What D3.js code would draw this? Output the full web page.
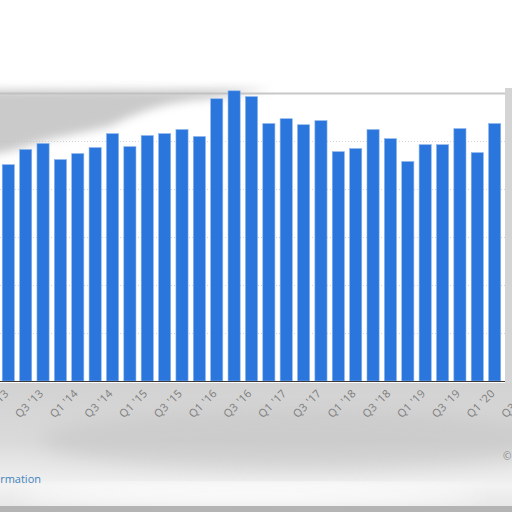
<!DOCTYPE html>
<html>
<head>
<meta charset="utf-8">
<script src="https://cdn.jsdelivr.net/npm/d3@7"></script>
<style>
  html, body { margin: 0; padding: 0; background: #fff; overflow: hidden; }
  svg { display: block; font-family: "Open Sans", "Noto Sans", sans-serif; }
</style>
</head>
<body>
<svg id="chart" width="512" height="512"></svg>
<script>
// quarters on the axis (last two are cut off by the frame)
const quarters = [
  "Q1 '13", "Q2 '13", "Q3 '13", "Q4 '13",
  "Q1 '14", "Q2 '14", "Q3 '14", "Q4 '14",
  "Q1 '15", "Q2 '15", "Q3 '15", "Q4 '15",
  "Q1 '16", "Q2 '16", "Q3 '16", "Q4 '16",
  "Q1 '17", "Q2 '17", "Q3 '17", "Q4 '17",
  "Q1 '18", "Q2 '18", "Q3 '18", "Q4 '18",
  "Q1 '19", "Q2 '19", "Q3 '19", "Q4 '19",
  "Q1 '20", "Q2 '20", "Q3 '20"
];
// values (one per visible quarter)
const values = [
  90.0, 96.3, 98.8, 92.1,
  94.6, 97.1, 102.9, 97.5,
  102.1, 102.9, 104.6, 101.7,
  117.4, 120.7, 118.3, 107.1,
  109.1, 106.6, 108.3, 95.4,
  96.7, 104.6, 100.8, 91.3,
  98.3, 98.3, 105.0, 95.0,
  107.1
];
const yTicks = [0, 20, 40, 60, 80, 100, 120];

const svg = d3.select("#chart");
const W = 512, H = 512;
const step = 17.37;
const plotLeft = 8.3 - step / 2;
const plotRight = 505;
const base = 381, plotTop = 92.5;

const defs = svg.append("defs");
const blur = defs.append("filter").attr("id", "blur")
  .attr("x", "-20%").attr("y", "-50%").attr("width", "140%").attr("height", "200%");
blur.append("feGaussianBlur").attr("stdDeviation", 5);
const soft = defs.append("filter").attr("id", "soft")
  .attr("x", "-20%").attr("y", "-20%").attr("width", "140%").attr("height", "140%");
soft.append("feGaussianBlur").attr("stdDeviation", 10);

const grayGrad = defs.append("linearGradient").attr("id", "bottomGrad")
  .attr("x1", 0).attr("y1", 0).attr("x2", 0).attr("y2", 1);
grayGrad.append("stop").attr("offset", "0%").attr("stop-color", "#d2d2d2");
grayGrad.append("stop").attr("offset", "45%").attr("stop-color", "#dadada");
grayGrad.append("stop").attr("offset", "80%").attr("stop-color", "#f2f2f2");
grayGrad.append("stop").attr("offset", "100%").attr("stop-color", "#e4e4e4");

const x = d3.scaleBand()
  .domain(quarters)
  .range([plotLeft, plotLeft + step * quarters.length])
  .paddingInner(0.3)
  .paddingOuter(0.15);

const y = d3.scaleLinear()
  .domain([0, 120])
  .range([base, plotTop]);

// background pieces
svg.append("rect").attr("width", W).attr("height", H).attr("fill", "#fff");
svg.append("rect")
  .attr("x", 0).attr("y", base + 2)
  .attr("width", W).attr("height", H - base - 2)
  .attr("fill", "url(#bottomGrad)");
svg.append("ellipse")
  .attr("cx", 300).attr("cy", 440).attr("rx", 260).attr("ry", 30)
  .attr("fill", "#c0c0c0").attr("opacity", 0.5).attr("filter", "url(#soft)");
svg.append("ellipse")
  .attr("cx", 250).attr("cy", 495).attr("rx", 230).attr("ry", 10)
  .attr("fill", "#fff").attr("opacity", 0.9).attr("filter", "url(#soft)");
svg.append("rect")
  .attr("x", 0).attr("y", 506).attr("width", W).attr("height", 6)
  .attr("fill", "#b4b4b4");

// gridlines
svg.append("g")
  .selectAll("line")
  .data(yTicks.slice(1))
  .join("line")
  .attr("x1", 0).attr("x2", plotRight)
  .attr("y1", d => Math.round(y(d)) + 0.5)
  .attr("y2", d => Math.round(y(d)) + 0.5)
  .attr("stroke", d => d === 120 ? "#c8c8c8" : "#d6d6d6")
  .attr("stroke-width", d => d === 120 ? 2 : 1)
  .attr("stroke-dasharray", d => d === 120 ? null : "1,2");

// smudge over the upper left of the plot
svg.append("path")
  .attr("d", "M-20,90 L270,89 C235,94 215,99 195,100 C160,104 140,112 110,126 C80,134 60,136 40,142 C25,146 15,152 -20,156 Z")
  .attr("fill", "#bdbdbd")
  .attr("opacity", 0.8)
  .attr("filter", "url(#blur)");

// bars
svg.append("g")
  .selectAll("rect")
  .data(values)
  .join("rect")
  .attr("x", (d, i) => x(quarters[i]))
  .attr("y", d => y(d))
  .attr("width", x.bandwidth())
  .attr("height", d => base - y(d))
  .attr("fill", "#2a76dc")
  .attr("stroke", "#8fb6ea")
  .attr("stroke-width", 0.6);

// baseline
svg.append("line")
  .attr("x1", 0).attr("x2", plotRight)
  .attr("y1", base + 0.5).attr("y2", base + 0.5)
  .attr("stroke", "#3a3a3a").attr("stroke-width", 1);

// gray strip on the right edge
svg.append("rect")
  .attr("x", plotRight).attr("y", 88)
  .attr("width", W - plotRight).attr("height", base - 86)
  .attr("fill", "#d4d4d4");

// x labels, every second quarter
svg.append("g")
  .selectAll("text")
  .data(quarters.filter((d, i) => i % 2 === 0))
  .join("text")
  .attr("transform", d => `translate(${x(d) + x.bandwidth() / 2 + 1},${base + 13}) rotate(-45)`)
  .attr("text-anchor", "end")
  .attr("font-size", 11)
  .attr("letter-spacing", 0.3)
  .attr("fill", "#7c7c7c")
  .text(d => d);

// footer text
svg.append("text")
  .attr("x", 41).attr("y", 483)
  .attr("text-anchor", "end")
  .attr("font-size", 11)
  .attr("fill", "#3d82bd")
  .text("Additional Information");
svg.append("text")
  .attr("x", 503).attr("y", 460)
  .attr("font-size", 10)
  .attr("fill", "#8a8a8a")
  .text("© Statista 2020");
</script>
</body>
</html>
